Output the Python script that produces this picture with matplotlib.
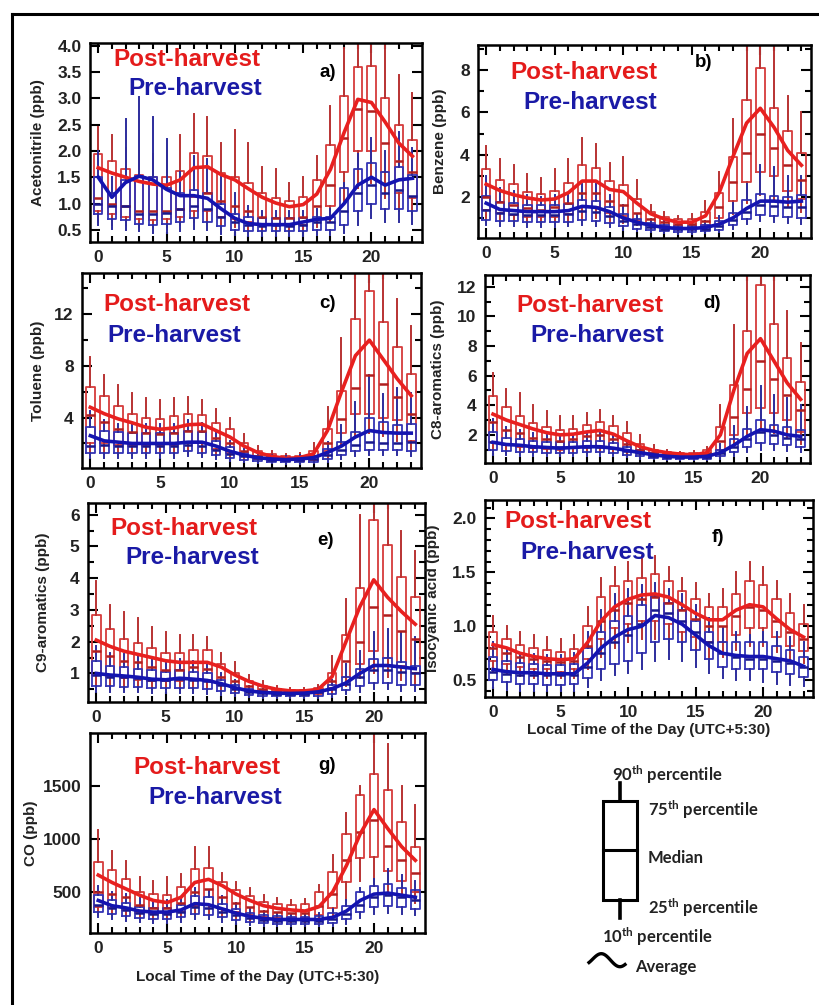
import numpy as np
import matplotlib
matplotlib.use("Agg")
import matplotlib.pyplot as plt
from matplotlib.lines import Line2D
from matplotlib.ticker import MultipleLocator, NullLocator

plt.rcParams['font.family'] = ['Liberation Sans', 'DejaVu Sans']
plt.rcParams['mathtext.fontset'] = 'custom'
plt.rcParams['mathtext.rm'] = 'Lato:bold'
plt.rcParams['mathtext.it'] = 'Lato:bold'
plt.rcParams['mathtext.bf'] = 'Lato:bold'

HOURS = list(range(24))
XTICKS = [0, 5, 10, 15, 20]

# ---------------- a) Acetonitrile ----------------
acn_post_mean = [1.68, 1.58, 1.50, 1.42, 1.37, 1.35, 1.45, 1.68, 1.70, 1.55, 1.45, 1.28, 1.12, 1.01, 0.94, 0.98, 1.18, 1.65, 2.35, 2.98, 2.92, 2.55, 2.15, 1.90]
acn_post_p10 = [0.65, 0.60, 0.60, 0.55, 0.55, 0.55, 0.60, 0.65, 0.65, 0.60, 0.55, 0.50, 0.50, 0.50, 0.50, 0.50, 0.55, 0.65, 1.00, 1.30, 1.40, 1.10, 0.85, 0.80]
acn_post_p25 = [0.85, 0.80, 0.75, 0.70, 0.68, 0.70, 0.75, 0.85, 0.85, 0.75, 0.70, 0.65, 0.60, 0.60, 0.60, 0.60, 0.70, 0.95, 1.60, 2.00, 2.00, 1.60, 1.20, 1.10]
acn_post_med = [1.10, 1.00, 0.95, 0.85, 0.85, 0.85, 0.90, 1.15, 1.20, 1.05, 0.95, 0.85, 0.75, 0.72, 0.72, 0.75, 0.95, 1.35, 2.25, 2.80, 2.75, 2.15, 1.80, 1.60]
acn_post_p75 = [1.95, 1.80, 1.65, 1.55, 1.50, 1.50, 1.62, 1.97, 1.90, 1.58, 1.50, 1.40, 1.20, 1.10, 1.05, 1.12, 1.45, 2.12, 3.05, 3.60, 3.62, 3.00, 2.50, 2.20]
acn_post_p90 = [2.45, 2.30, 2.05, 2.00, 1.95, 2.00, 2.30, 2.70, 2.65, 2.15, 2.40, 2.15, 1.70, 1.65, 1.40, 1.50, 1.90, 2.85, 3.95, 4.40, 4.50, 4.10, 3.45, 3.10]
acn_pre_mean = [1.50, 1.12, 1.40, 1.52, 1.45, 1.27, 1.15, 1.15, 1.10, 0.90, 0.72, 0.62, 0.60, 0.60, 0.60, 0.65, 0.70, 0.72, 1.00, 1.35, 1.50, 1.35, 1.45, 1.48]
acn_pre_p10 = [0.60, 0.52, 0.50, 0.48, 0.45, 0.45, 0.48, 0.52, 0.50, 0.43, 0.40, 0.38, 0.38, 0.38, 0.38, 0.38, 0.40, 0.40, 0.45, 0.60, 0.72, 0.65, 0.65, 0.62]
acn_pre_p25 = [0.80, 0.70, 0.68, 0.62, 0.60, 0.62, 0.65, 0.72, 0.65, 0.58, 0.50, 0.48, 0.48, 0.48, 0.48, 0.48, 0.50, 0.50, 0.60, 0.85, 1.00, 0.90, 0.90, 0.85]
acn_pre_med = [1.00, 0.95, 0.95, 0.80, 0.80, 0.82, 0.90, 0.95, 0.90, 0.75, 0.65, 0.60, 0.58, 0.60, 0.58, 0.60, 0.65, 0.65, 0.85, 1.20, 1.35, 1.20, 1.25, 1.15]
acn_pre_p75 = [1.50, 1.20, 1.45, 1.52, 1.50, 1.30, 1.20, 1.25, 1.20, 1.00, 0.80, 0.75, 0.72, 0.72, 0.72, 0.72, 0.75, 0.75, 1.30, 1.65, 1.78, 1.60, 1.70, 1.55]
acn_pre_p90 = [2.00, 1.50, 2.60, 3.02, 2.65, 2.22, 1.60, 1.90, 1.85, 1.50, 1.20, 0.95, 0.85, 0.85, 0.85, 0.85, 0.90, 0.90, 1.40, 1.95, 2.25, 2.00, 2.35, 2.05]

# ---------------- b) Benzene ----------------
benz_post_mean = [2.60, 2.30, 2.10, 1.95, 1.85, 1.90, 2.20, 2.75, 2.75, 2.35, 2.25, 1.70, 1.20, 0.95, 0.80, 0.80, 1.10, 2.20, 3.90, 5.50, 6.20, 5.30, 4.20, 3.50]
benz_post_p10 = [1.00, 0.90, 0.85, 0.80, 0.80, 0.80, 0.85, 1.00, 1.00, 0.85, 0.75, 0.65, 0.50, 0.45, 0.42, 0.42, 0.48, 0.70, 1.20, 1.70, 2.10, 1.90, 1.50, 1.30]
benz_post_p25 = [1.40, 1.25, 1.15, 1.05, 1.05, 1.05, 1.20, 1.50, 1.50, 1.25, 1.10, 0.90, 0.70, 0.62, 0.58, 0.58, 0.65, 1.00, 1.80, 2.70, 3.20, 3.00, 2.30, 1.90]
benz_post_med = [2.00, 1.75, 1.60, 1.45, 1.40, 1.50, 1.70, 2.20, 2.20, 1.80, 1.60, 1.25, 0.95, 0.80, 0.72, 0.72, 0.85, 1.50, 2.70, 4.10, 5.00, 4.30, 3.50, 2.80]
benz_post_p75 = [3.30, 2.80, 2.60, 2.25, 2.15, 2.30, 2.65, 3.50, 3.35, 2.75, 2.55, 1.90, 1.30, 1.05, 0.95, 0.95, 1.30, 2.20, 3.90, 6.60, 8.10, 6.20, 5.10, 4.10]
benz_post_p90 = [4.40, 3.80, 3.50, 3.10, 2.90, 3.30, 3.80, 4.80, 4.50, 3.60, 3.90, 2.80, 1.60, 1.30, 1.10, 1.20, 1.80, 3.20, 5.70, 10.5, 11.0, 10.0, 6.80, 6.00]
benz_pre_mean = [1.70, 1.40, 1.35, 1.30, 1.30, 1.30, 1.35, 1.55, 1.50, 1.30, 1.00, 0.80, 0.65, 0.55, 0.50, 0.50, 0.55, 0.70, 1.00, 1.45, 1.80, 1.80, 1.75, 1.80]
benz_pre_p10 = [0.65, 0.60, 0.60, 0.58, 0.58, 0.58, 0.60, 0.65, 0.62, 0.55, 0.45, 0.38, 0.32, 0.28, 0.26, 0.26, 0.28, 0.33, 0.48, 0.70, 0.85, 0.80, 0.75, 0.72]
benz_pre_p25 = [0.90, 0.85, 0.85, 0.80, 0.80, 0.80, 0.82, 0.90, 0.85, 0.75, 0.60, 0.50, 0.42, 0.38, 0.35, 0.35, 0.37, 0.45, 0.65, 0.95, 1.15, 1.10, 1.05, 1.00]
benz_pre_med = [1.40, 1.25, 1.20, 1.15, 1.15, 1.15, 1.20, 1.35, 1.30, 1.10, 0.85, 0.70, 0.58, 0.50, 0.47, 0.47, 0.50, 0.62, 0.90, 1.30, 1.60, 1.55, 1.50, 1.50]
benz_pre_p75 = [2.05, 1.75, 1.70, 1.60, 1.60, 1.60, 1.65, 1.85, 1.80, 1.50, 1.20, 0.95, 0.75, 0.65, 0.60, 0.60, 0.65, 0.85, 1.25, 1.85, 2.15, 2.05, 2.00, 2.10]
benz_pre_p90 = [3.00, 2.40, 2.30, 2.10, 2.00, 2.10, 2.20, 2.60, 2.60, 2.10, 1.60, 1.20, 0.95, 0.85, 0.80, 0.80, 0.85, 1.10, 1.70, 2.60, 3.50, 3.40, 3.00, 3.00]

# ---------------- c) Toluene ----------------
tol_post_mean = [4.80, 4.30, 3.90, 3.60, 3.25, 3.10, 3.20, 3.45, 3.50, 3.00, 2.50, 1.80, 1.30, 1.00, 0.85, 0.90, 1.20, 3.00, 6.00, 8.80, 10.0, 8.50, 7.00, 5.70]
tol_post_p10 = [1.20, 1.20, 1.20, 1.10, 1.10, 1.10, 1.10, 1.20, 1.20, 1.00, 0.80, 0.65, 0.55, 0.50, 0.45, 0.45, 0.50, 0.90, 1.80, 2.60, 2.80, 2.60, 2.20, 1.50]
tol_post_p25 = [2.00, 2.00, 1.90, 1.80, 1.80, 1.90, 1.90, 2.00, 2.00, 1.60, 1.30, 1.00, 0.80, 0.70, 0.65, 0.65, 0.75, 1.40, 2.80, 4.30, 4.30, 4.00, 3.80, 2.20]
tol_post_med = [4.20, 3.70, 3.10, 2.90, 2.80, 2.70, 2.80, 3.00, 3.00, 2.40, 2.00, 1.40, 1.05, 0.90, 0.80, 0.82, 1.00, 2.00, 3.90, 6.30, 7.30, 6.60, 5.60, 4.30]
tol_post_p75 = [6.40, 5.70, 4.90, 4.30, 4.00, 3.90, 4.10, 4.30, 4.20, 3.60, 3.10, 2.00, 1.40, 1.15, 1.00, 1.05, 1.40, 3.10, 6.10, 11.6, 13.8, 11.4, 9.50, 7.40]
tol_post_p90 = [8.70, 7.30, 6.50, 5.90, 5.50, 5.40, 5.50, 5.60, 5.40, 4.70, 4.00, 2.70, 1.80, 1.40, 1.20, 1.30, 2.00, 4.80, 10.2, 16.5, 17.0, 16.0, 13.2, 11.1]
tol_pre_mean = [2.60, 2.20, 2.10, 2.00, 2.00, 2.00, 2.00, 2.10, 2.10, 1.80, 1.40, 1.10, 0.90, 0.80, 0.75, 0.80, 0.90, 1.30, 1.80, 2.50, 3.00, 2.85, 2.80, 2.80]
tol_pre_p10 = [0.90, 0.90, 0.90, 0.90, 0.90, 0.90, 0.90, 1.00, 0.95, 0.80, 0.65, 0.55, 0.48, 0.45, 0.42, 0.42, 0.45, 0.60, 0.80, 1.00, 1.10, 1.10, 1.10, 1.00]
tol_pre_p25 = [1.30, 1.30, 1.30, 1.30, 1.30, 1.30, 1.30, 1.40, 1.30, 1.10, 0.90, 0.75, 0.65, 0.60, 0.55, 0.55, 0.60, 0.80, 1.10, 1.40, 1.50, 1.50, 1.50, 1.40]
tol_pre_med = [1.80, 1.90, 1.80, 1.80, 1.80, 1.80, 1.80, 1.90, 1.80, 1.50, 1.20, 1.00, 0.85, 0.75, 0.70, 0.72, 0.80, 1.10, 1.50, 1.90, 2.10, 2.00, 2.00, 2.10]
tol_pre_p75 = [3.30, 3.00, 2.90, 2.80, 2.80, 2.80, 2.80, 3.00, 2.90, 2.20, 1.70, 1.30, 1.00, 0.90, 0.85, 0.90, 1.05, 1.60, 2.10, 2.90, 4.00, 3.70, 3.40, 3.50]
tol_pre_p90 = [4.50, 3.80, 3.50, 3.50, 3.50, 3.50, 3.50, 3.80, 3.60, 2.90, 2.20, 1.60, 1.20, 1.10, 1.00, 1.10, 1.30, 2.10, 3.40, 5.20, 7.30, 5.80, 6.30, 5.90]

# ---------------- d) C8-aromatics ----------------
c8_post_mean = [3.40, 3.00, 2.70, 2.40, 2.15, 2.00, 2.05, 2.20, 2.30, 2.05, 1.60, 1.20, 0.95, 0.80, 0.70, 0.65, 0.80, 2.00, 5.00, 7.50, 8.50, 7.00, 5.50, 4.40]
c8_post_p10 = [0.90, 0.80, 0.80, 0.75, 0.70, 0.70, 0.75, 0.80, 0.85, 0.75, 0.60, 0.50, 0.42, 0.40, 0.38, 0.38, 0.42, 0.70, 1.20, 2.00, 2.30, 2.10, 1.80, 1.40]
c8_post_p25 = [1.50, 1.30, 1.20, 1.10, 1.05, 1.00, 1.10, 1.20, 1.25, 1.10, 0.90, 0.75, 0.60, 0.55, 0.50, 0.50, 0.55, 1.00, 2.00, 3.50, 3.80, 3.50, 3.00, 2.20]
c8_post_med = [2.90, 2.30, 2.10, 1.80, 1.70, 1.60, 1.70, 1.90, 2.00, 1.70, 1.40, 1.00, 0.80, 0.70, 0.62, 0.62, 0.75, 1.60, 3.20, 5.10, 7.00, 5.80, 4.70, 3.70]
c8_post_p75 = [4.60, 3.90, 3.30, 2.80, 2.50, 2.30, 2.40, 2.70, 2.90, 2.60, 2.10, 1.40, 1.00, 0.85, 0.75, 0.75, 1.00, 2.50, 5.40, 9.00, 12.1, 9.50, 7.20, 5.60]
c8_post_p90 = [6.20, 5.10, 4.80, 4.00, 3.60, 3.30, 3.30, 3.50, 3.70, 3.30, 2.90, 2.00, 1.30, 1.00, 0.85, 0.90, 1.20, 4.00, 9.40, 13.5, 14.0, 13.5, 10.4, 8.20]
c8_pre_mean = [1.50, 1.35, 1.30, 1.20, 1.15, 1.10, 1.15, 1.20, 1.20, 1.10, 0.95, 0.80, 0.65, 0.55, 0.50, 0.50, 0.55, 0.80, 1.30, 1.90, 2.35, 2.25, 2.00, 1.90]
c8_pre_p10 = [0.65, 0.62, 0.60, 0.58, 0.56, 0.56, 0.56, 0.60, 0.60, 0.55, 0.48, 0.40, 0.34, 0.30, 0.28, 0.28, 0.30, 0.40, 0.60, 0.85, 1.00, 0.95, 0.90, 0.85]
c8_pre_p25 = [0.95, 0.90, 0.85, 0.82, 0.80, 0.80, 0.80, 0.85, 0.85, 0.78, 0.65, 0.55, 0.45, 0.40, 0.37, 0.37, 0.40, 0.55, 0.85, 1.20, 1.45, 1.40, 1.30, 1.20]
c8_pre_med = [1.50, 1.35, 1.30, 1.20, 1.20, 1.15, 1.15, 1.20, 1.20, 1.10, 0.90, 0.75, 0.60, 0.52, 0.48, 0.48, 0.52, 0.75, 1.20, 1.70, 2.20, 2.00, 1.80, 1.70]
c8_pre_p75 = [2.20, 1.80, 1.70, 1.60, 1.55, 1.50, 1.50, 1.60, 1.60, 1.45, 1.20, 0.95, 0.75, 0.65, 0.60, 0.60, 0.65, 1.00, 1.70, 2.40, 3.00, 2.70, 2.50, 2.30]
c8_pre_p90 = [3.10, 2.50, 2.30, 2.10, 2.00, 2.00, 2.00, 2.20, 2.20, 2.00, 1.60, 1.20, 0.90, 0.75, 0.70, 0.70, 0.80, 1.40, 2.60, 3.90, 5.30, 4.70, 4.50, 4.00]

# ---------------- e) C9-aromatics ----------------
c9_post_mean = [2.05, 1.85, 1.70, 1.60, 1.50, 1.40, 1.35, 1.35, 1.35, 1.20, 0.95, 0.75, 0.60, 0.50, 0.45, 0.45, 0.50, 0.90, 2.00, 3.10, 3.95, 3.40, 2.95, 2.55]
c9_post_p10 = [0.60, 0.58, 0.55, 0.52, 0.50, 0.50, 0.50, 0.52, 0.52, 0.45, 0.40, 0.34, 0.30, 0.28, 0.27, 0.27, 0.28, 0.40, 0.60, 0.85, 1.00, 0.90, 0.80, 0.65]
c9_post_p25 = [0.95, 0.90, 0.85, 0.80, 0.75, 0.75, 0.75, 0.80, 0.80, 0.65, 0.55, 0.45, 0.40, 0.36, 0.34, 0.34, 0.36, 0.55, 0.90, 1.30, 1.70, 1.50, 1.25, 1.00]
c9_post_med = [1.70, 1.55, 1.40, 1.35, 1.20, 1.10, 1.10, 1.20, 1.15, 0.90, 0.75, 0.60, 0.50, 0.45, 0.42, 0.42, 0.45, 0.75, 1.40, 2.00, 3.10, 2.85, 2.35, 2.10]
c9_post_p75 = [2.85, 2.40, 2.10, 1.95, 1.80, 1.65, 1.65, 1.75, 1.75, 1.30, 1.00, 0.75, 0.60, 0.52, 0.48, 0.48, 0.55, 1.00, 2.20, 3.70, 5.85, 5.05, 4.05, 3.40]
c9_post_p90 = [3.90, 3.15, 2.95, 2.75, 2.45, 2.30, 2.20, 2.20, 2.15, 1.65, 1.35, 0.95, 0.75, 0.60, 0.55, 0.55, 0.65, 1.55, 3.35, 6.00, 7.00, 6.80, 5.50, 4.85]
c9_pre_mean = [1.00, 0.95, 0.92, 0.88, 0.82, 0.80, 0.85, 0.82, 0.78, 0.68, 0.55, 0.45, 0.40, 0.38, 0.37, 0.38, 0.42, 0.52, 0.70, 1.00, 1.25, 1.25, 1.20, 1.15]
c9_pre_p10 = [0.42, 0.42, 0.40, 0.40, 0.38, 0.38, 0.38, 0.38, 0.36, 0.32, 0.28, 0.25, 0.23, 0.22, 0.22, 0.22, 0.23, 0.27, 0.35, 0.42, 0.50, 0.50, 0.46, 0.44]
c9_pre_p25 = [0.60, 0.60, 0.58, 0.56, 0.54, 0.54, 0.55, 0.55, 0.52, 0.45, 0.38, 0.33, 0.30, 0.28, 0.28, 0.28, 0.30, 0.36, 0.48, 0.60, 0.70, 0.70, 0.65, 0.62]
c9_pre_med = [0.95, 0.90, 0.90, 0.85, 0.80, 0.80, 0.82, 0.80, 0.75, 0.62, 0.50, 0.42, 0.38, 0.36, 0.35, 0.36, 0.40, 0.50, 0.68, 0.90, 1.10, 1.10, 1.05, 1.00]
c9_pre_p75 = [1.40, 1.25, 1.20, 1.15, 1.10, 1.05, 1.10, 1.05, 1.00, 0.80, 0.65, 0.52, 0.45, 0.42, 0.40, 0.42, 0.48, 0.62, 0.90, 1.15, 1.45, 1.50, 1.35, 1.25]
c9_pre_p90 = [1.85, 1.65, 1.60, 1.55, 1.45, 1.40, 1.45, 1.40, 1.30, 1.00, 0.80, 0.60, 0.52, 0.48, 0.46, 0.48, 0.55, 0.80, 1.30, 1.70, 2.30, 2.40, 2.30, 2.15]

# ---------------- f) Isocyanic acid ----------------
hnco_post_mean = [0.83, 0.80, 0.75, 0.72, 0.70, 0.69, 0.70, 0.85, 1.05, 1.18, 1.25, 1.29, 1.30, 1.27, 1.20, 1.12, 1.06, 1.06, 1.15, 1.20, 1.18, 1.07, 0.97, 0.90]
hnco_post_p10 = [0.58, 0.56, 0.54, 0.52, 0.52, 0.52, 0.52, 0.60, 0.72, 0.80, 0.85, 0.88, 0.88, 0.85, 0.80, 0.75, 0.72, 0.72, 0.78, 0.82, 0.82, 0.76, 0.70, 0.66]
hnco_post_p25 = [0.68, 0.65, 0.62, 0.60, 0.60, 0.58, 0.60, 0.70, 0.88, 0.98, 1.02, 1.05, 1.05, 1.02, 0.95, 0.90, 0.85, 0.85, 0.92, 0.98, 0.98, 0.90, 0.82, 0.77]
hnco_post_med = [0.80, 0.75, 0.72, 0.70, 0.68, 0.67, 0.68, 0.82, 1.05, 1.15, 1.22, 1.25, 1.27, 1.22, 1.15, 1.07, 1.00, 1.00, 1.10, 1.18, 1.15, 1.05, 0.95, 0.88]
hnco_post_p75 = [0.95, 0.88, 0.83, 0.80, 0.78, 0.76, 0.79, 1.00, 1.27, 1.37, 1.42, 1.45, 1.48, 1.42, 1.33, 1.25, 1.18, 1.18, 1.30, 1.42, 1.38, 1.25, 1.12, 1.02]
hnco_post_p90 = [1.10, 1.00, 0.95, 0.92, 0.90, 0.88, 0.92, 1.18, 1.45, 1.55, 1.60, 1.65, 1.65, 1.55, 1.45, 1.40, 1.30, 1.35, 1.50, 1.60, 1.55, 1.42, 1.30, 1.20]
hnco_pre_mean = [0.60, 0.58, 0.57, 0.57, 0.56, 0.56, 0.56, 0.66, 0.80, 0.90, 0.97, 1.00, 1.10, 1.08, 1.02, 0.92, 0.82, 0.75, 0.73, 0.72, 0.72, 0.70, 0.68, 0.63]
hnco_pre_p10 = [0.43, 0.41, 0.40, 0.40, 0.40, 0.40, 0.40, 0.44, 0.50, 0.55, 0.57, 0.60, 0.68, 0.70, 0.68, 0.62, 0.57, 0.52, 0.50, 0.50, 0.48, 0.47, 0.46, 0.45]
hnco_pre_p25 = [0.50, 0.48, 0.47, 0.47, 0.46, 0.46, 0.47, 0.52, 0.60, 0.65, 0.68, 0.75, 0.85, 0.88, 0.85, 0.78, 0.70, 0.62, 0.60, 0.60, 0.60, 0.58, 0.56, 0.53]
hnco_pre_med = [0.58, 0.56, 0.55, 0.55, 0.55, 0.55, 0.55, 0.62, 0.75, 0.85, 0.92, 1.02, 1.15, 1.12, 1.05, 0.95, 0.85, 0.75, 0.72, 0.70, 0.70, 0.68, 0.66, 0.62]
hnco_pre_p75 = [0.72, 0.68, 0.66, 0.65, 0.64, 0.64, 0.65, 0.80, 0.95, 1.05, 1.10, 1.20, 1.28, 1.22, 1.15, 1.05, 0.95, 0.85, 0.85, 0.85, 0.85, 0.82, 0.78, 0.72]
hnco_pre_p90 = [0.85, 0.78, 0.75, 0.74, 0.73, 0.73, 0.75, 0.95, 1.15, 1.30, 1.35, 1.38, 1.40, 1.35, 1.30, 1.20, 1.08, 0.98, 0.95, 0.92, 0.95, 0.95, 0.90, 0.85]

# ---------------- g) CO ----------------
co_post_mean = [660, 590, 530, 470, 420, 400, 450, 590, 620, 560, 480, 420, 370, 345, 330, 320, 360, 500, 750, 1050, 1280, 1100, 930, 800]
co_post_p10 = [280, 280, 260, 240, 230, 230, 250, 290, 300, 270, 250, 230, 210, 200, 200, 200, 220, 270, 420, 600, 560, 500, 450, 400]
co_post_p25 = [360, 350, 330, 300, 290, 290, 310, 370, 380, 340, 310, 280, 260, 250, 250, 250, 280, 350, 590, 820, 830, 700, 600, 500]
co_post_med = [500, 480, 450, 380, 350, 350, 400, 500, 530, 450, 400, 360, 320, 310, 300, 300, 370, 480, 800, 1070, 1180, 940, 800, 680]
co_post_p75 = [780, 710, 620, 500, 480, 470, 550, 720, 730, 590, 520, 460, 410, 390, 380, 390, 500, 690, 1050, 1420, 1620, 1470, 1160, 930]
co_post_p90 = [1090, 890, 790, 640, 600, 640, 670, 930, 930, 680, 590, 540, 470, 440, 420, 430, 570, 850, 1250, 1500, 2100, 1900, 1500, 1320]
co_pre_mean = [420, 370, 350, 320, 310, 310, 330, 390, 380, 340, 300, 270, 250, 240, 240, 240, 240, 260, 320, 420, 480, 490, 470, 450]
co_pre_p10 = [260, 240, 230, 215, 210, 210, 220, 240, 240, 220, 200, 185, 178, 175, 175, 175, 175, 180, 200, 250, 290, 300, 290, 280]
co_pre_p25 = [310, 290, 270, 250, 245, 245, 260, 290, 285, 260, 235, 215, 205, 200, 200, 200, 200, 210, 240, 310, 360, 370, 360, 340]
co_pre_med = [380, 350, 330, 300, 290, 290, 310, 360, 350, 310, 280, 250, 235, 228, 225, 225, 225, 240, 290, 380, 450, 470, 450, 420]
co_pre_p75 = [470, 420, 400, 360, 350, 350, 380, 460, 450, 390, 340, 300, 280, 270, 265, 265, 270, 300, 370, 500, 560, 580, 540, 520]
co_pre_p90 = [560, 500, 480, 440, 420, 420, 450, 540, 520, 460, 400, 350, 320, 300, 290, 290, 300, 340, 420, 540, 620, 720, 660, 600]

RED_BOX = '#d63c3c'
RED_WHISK = '#b83232'
RED_MED = '#b01e1e'
RED_LINE = '#e8201f'
BLUE_BOX = '#3434b4'
BLUE_WHISK = '#2c2c9c'
BLUE_MED = '#18188c'
BLUE_LINE = '#1414b0'
RED_TXT = '#e41b1b'
BLUE_TXT = '#1a1aa6'
LABEL_C = '#222222'

W, H = 819, 1005
fig = plt.figure(figsize=(W / 100, H / 100), dpi=100)


def add_px_axes(l, t, r, b):
    return fig.add_axes([l / W, 1 - b / H, (r - l) / W, (b - t) / H])


def draw_boxes(ax, p10, p25, med, p75, p90, box_c, whisk_c, med_c):
    stats = [dict(med=m, q1=q1, q3=q3, whislo=lo, whishi=hi, fliers=[])
             for lo, q1, m, q3, hi in zip(p10, p25, med, p75, p90)]
    ax.bxp(stats, positions=HOURS, widths=0.62, showfliers=False, showcaps=False,
           manage_ticks=False,
           boxprops=dict(color=box_c, linewidth=1.3),
           whiskerprops=dict(color=whisk_c, linewidth=1.4),
           medianprops=dict(color=med_c, linewidth=1.8))


def panel(box_px, post, pre, ylabel, ylim, ymajor, yminor, letter, txt_pos, ylabel_x):
    ax = add_px_axes(*box_px)
    draw_boxes(ax, *post[1:], RED_BOX, RED_WHISK, RED_MED)
    draw_boxes(ax, *pre[1:], BLUE_BOX, BLUE_WHISK, BLUE_MED)
    ax.plot(HOURS, post[0], color=RED_LINE, lw=2.6, zorder=5)
    ax.plot(HOURS, pre[0], color=BLUE_LINE, lw=2.6, zorder=6)
    ax.set_xlim(-0.6, 23.7)
    ax.set_ylim(*ylim)
    ax.set_xticks(XTICKS)
    ax.xaxis.set_minor_locator(MultipleLocator(1))
    ax.set_yticks(ymajor)
    if yminor:
        ax.yaxis.set_minor_locator(MultipleLocator(yminor))
    else:
        ax.yaxis.set_minor_locator(NullLocator())
    ax.tick_params(which='both', direction='in', top=True, right=True, width=1.5,
                   color='black', labelcolor=LABEL_C)
    ax.tick_params(which='major', length=7, pad=6, labelsize=12.5)
    ax.tick_params(which='minor', length=4)
    for lab in ax.get_xticklabels() + ax.get_yticklabels():
        lab.set_fontweight('bold')
    for sp in ax.spines.values():
        sp.set_linewidth(1.8)
    ax.set_ylabel(ylabel, fontsize=11, fontweight='bold', color=LABEL_C)
    ax.yaxis.set_label_coords((ylabel_x - box_px[0]) / (box_px[2] - box_px[0]), 0.5)
    (px, py), (qx, qy), (lx, ly) = txt_pos
    ax.text(px, py, 'Post-harvest', transform=ax.transAxes, color=RED_TXT,
            fontsize=17.5, fontweight='bold', va='center', ha='left')
    ax.text(qx, qy, 'Pre-harvest', transform=ax.transAxes, color=BLUE_TXT,
            fontsize=17.5, fontweight='bold', va='center', ha='left')
    ax.text(lx, ly, letter, transform=ax.transAxes, color='black',
            fontsize=13.5, fontweight='bold', va='center', ha='left')
    return ax


panel((90, 43, 422, 242),
      (acn_post_mean, acn_post_p10, acn_post_p25, acn_post_med, acn_post_p75, acn_post_p90),
      (acn_pre_mean, acn_pre_p10, acn_pre_p25, acn_pre_med, acn_pre_p75, acn_pre_p90),
      'Acetonitrile (ppb)', (0.27, 4.05), [0.5, 1.0, 1.5, 2.0, 2.5, 3.0, 3.5, 4.0], None, 'a)',
      ((0.07, 0.915), (0.115, 0.77), (0.69, 0.85)), 45)

panel((478, 45, 811, 238),
      (benz_post_mean, benz_post_p10, benz_post_p25, benz_post_med, benz_post_p75, benz_post_p90),
      (benz_pre_mean, benz_pre_p10, benz_pre_p25, benz_pre_med, benz_pre_p75, benz_pre_p90),
      'Benzene (ppb)', (0.05, 9.2), [2, 4, 6, 8], 1, 'b)',
      ((0.097, 0.855), (0.136, 0.70), (0.65, 0.91)), 447)

panel((82, 273, 421, 468),
      (tol_post_mean, tol_post_p10, tol_post_p25, tol_post_med, tol_post_p75, tol_post_p90),
      (tol_pre_mean, tol_pre_p10, tol_pre_p25, tol_pre_med, tol_pre_p75, tol_pre_p90),
      'Toluene (ppb)', (0.1, 15.2), [4, 8, 12], 2, 'c)',
      ((0.062, 0.836), (0.074, 0.68), (0.70, 0.846)), 45)

panel((485, 275, 810, 463),
      (c8_post_mean, c8_post_p10, c8_post_p25, c8_post_med, c8_post_p75, c8_post_p90),
      (c8_pre_mean, c8_pre_p10, c8_pre_p25, c8_pre_med, c8_pre_p75, c8_pre_p90),
      'C8-aromatics (ppb)', (0.1, 12.8), [2, 4, 6, 8, 10, 12], 1, 'd)',
      ((0.098, 0.84), (0.14, 0.68), (0.67, 0.85)), 445)

panel((88, 503, 425, 702),
      (c9_post_mean, c9_post_p10, c9_post_p25, c9_post_med, c9_post_p75, c9_post_p90),
      (c9_pre_mean, c9_pre_p10, c9_pre_p25, c9_pre_med, c9_pre_p75, c9_pre_p90),
      'C9-aromatics (ppb)', (0.1, 6.37), [1, 2, 3, 4, 5, 6], 0.5, 'e)',
      ((0.065, 0.874), (0.11, 0.724), (0.68, 0.81)), 50)

ax_f = panel((485, 500, 813, 697),
             (hnco_post_mean, hnco_post_p10, hnco_post_p25, hnco_post_med, hnco_post_p75, hnco_post_p90),
             (hnco_pre_mean, hnco_pre_p10, hnco_pre_p25, hnco_pre_med, hnco_pre_p75, hnco_pre_p90),
             'Isocyanic acid (ppb)', (0.345, 2.17), [0.5, 1.0, 1.5, 2.0], 0.1, 'f)',
             ((0.06, 0.89), (0.107, 0.736), (0.69, 0.81)), 440)
ax_f.set_xlabel('Local Time of the Day (UTC+5:30)', fontsize=11, fontweight='bold',
                color=LABEL_C, labelpad=2)

ax_g = panel((90, 733, 425, 933),
             (co_post_mean, co_post_p10, co_post_p25, co_post_med, co_post_p75, co_post_p90),
             (co_pre_mean, co_pre_p10, co_pre_p25, co_pre_med, co_pre_p75, co_pre_p90),
             'CO (ppb)', (112, 2005), [500, 1000, 1500], None, 'g)',
             ((0.128, 0.83), (0.173, 0.68), (0.68, 0.84)), 38)
ax_g.set_xlabel('Local Time of the Day (UTC+5:30)', fontsize=11, fontweight='bold',
                color=LABEL_C, labelpad=10)

# Box-plot key drawn in a pixel-coordinate overlay
key = fig.add_axes([0, 0, 1, 1], facecolor='none')
key.set_xlim(0, W)
key.set_ylim(H, 0)
key.axis('off')
kx0, kx1, kxm = 603, 637, 620
kq75, kmed, kq25, kp90, kp10 = 801, 850, 900, 783, 918
key.add_patch(plt.Rectangle((kx0, kq75), kx1 - kx0, kq25 - kq75, fill=False, lw=2.2, ec='black'))
key.plot([kx0, kx1], [kmed, kmed], color='black', lw=2.2)
key.plot([kxm, kxm], [kp90, kq75], color='black', lw=2.6)
key.plot([kxm, kxm], [kq25, kp10], color='black', lw=2.6)
tkw = dict(fontsize=12, color='#222222', va='center', ha='left', fontfamily='Lato', fontweight='bold')
key.text(612, 775, r'90$^{\rm th}$ percentile', **tkw)
key.text(648, 810, r'75$^{\rm th}$ percentile', **tkw)
key.text(648, 858, 'Median', **tkw)
key.text(648, 908, r'25$^{\rm th}$ percentile', **tkw)
key.text(602, 937, r'10$^{\rm th}$ percentile', **tkw)
key.text(635, 967, 'Average', **tkw)
sq_t = np.linspace(0, 1, 60)
key.plot(589 + 36 * sq_t, 959 - 6 * np.sin(2 * np.pi * (sq_t - 0.1)) + 2 * sq_t, color='black', lw=2.4)

# Outer frame (left and top edges)
fig.add_artist(Line2D([12 / W, 12 / W], [0, 1 - 14 / H], color='black', lw=2.2))
fig.add_artist(Line2D([12 / W, 1], [1 - 14 / H, 1 - 14 / H], color='black', lw=2.2))

fig.savefig('out.png', dpi=100)
